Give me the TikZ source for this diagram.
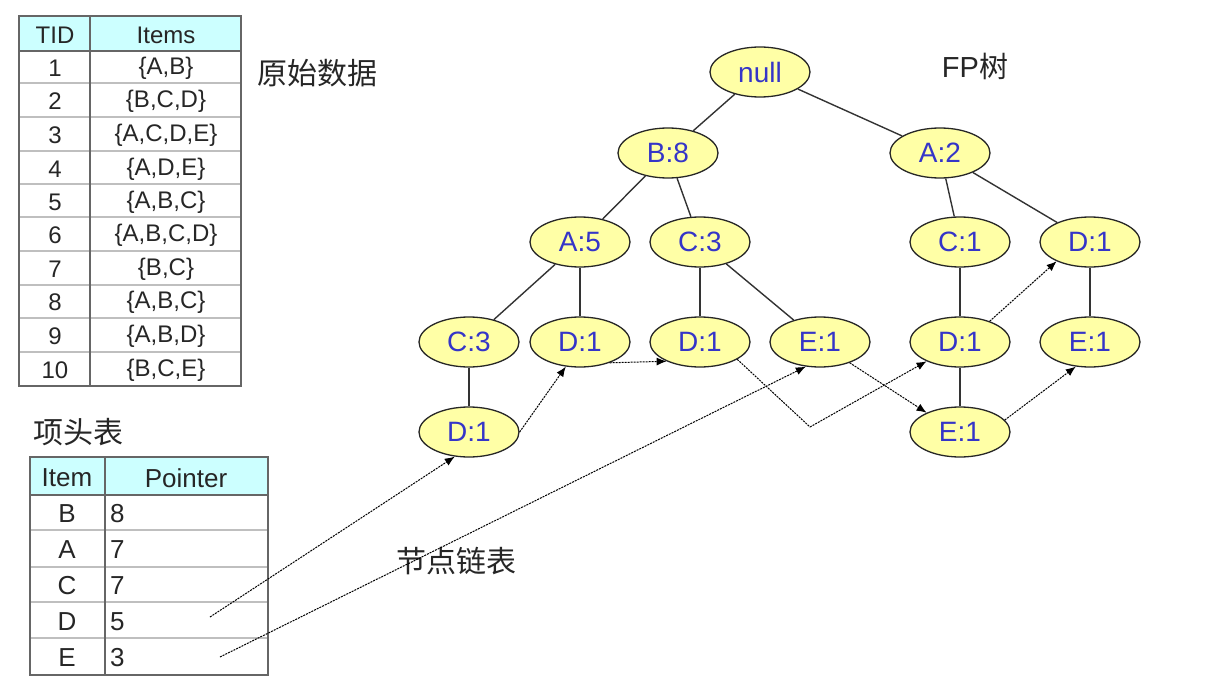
\documentclass[tikz,border=0pt]{standalone}
\usepackage{fontspec}
\setmainfont{Liberation Sans}
\newfontfamily\cjk{Noto Sans CJK SC}
\usetikzlibrary{shapes.geometric,arrows.meta}
\definecolor{nodefill}{HTML}{FFFFA6}
\definecolor{nodetext}{HTML}{3535C8}
\definecolor{headfill}{HTML}{CCFFFF}
\tikzset{
  fpnode/.style={ellipse,draw=black!85,line width=1.3pt,fill=nodefill,minimum width=100pt,minimum height=50pt,inner sep=0pt,text=nodetext,font=\fontsize{28}{28}\selectfont},
  treeedge/.style={draw=black!80,line width=1.4pt},
  linkarrow/.style={draw=black!55,line width=1pt,dash pattern=on 2pt off 1pt,-{Latex[length=10pt,width=8pt]},black},
  cell/.style={font=\fontsize{24}{24}\selectfont,text=black!85,inner sep=0pt},
  cellb/.style={font=\fontsize{26}{26}\selectfont,text=black!85,inner sep=0pt},
  cjklabel/.style={font=\cjk\fontsize{30}{30}\selectfont,text=black!85,inner sep=0pt},
  rowline/.style={draw=black!25,line width=1.6pt},
  frame/.style={draw=black!60,line width=1.4pt}
}
\begin{document}
\begin{tikzpicture}[x=1pt,y=-1pt]
\useasboundingbox (0,0) rectangle (1213,698);
% ---------- table 1 ----------
\fill[headfill] (19,16) rectangle (241,51);
\foreach \yy in {83,117,151,184,217,251,285,318,352}{\draw[rowline] (20,\yy) -- (240,\yy);}
\draw[frame] (19,51) -- (241,51);
\draw[frame] (19,16) rectangle (241,386);
\draw[frame] (90,16) -- (90,386);
\node[cell] (t1h1) at (55,35) {TID};
\node[cell] (t1h2) at (166,35) {Items};
\node[cell] (t1a1) at (55,68) {1};   \node[cell] (t1b1) at (166,68) {\{A,B\}};
\node[cell] (t1a2) at (55,101) {2};  \node[cell] (t1b2) at (166,101) {\{B,C,D\}};
\node[cell] (t1a3) at (55,135) {3};  \node[cell] (t1b3) at (166,135) {\{A,C,D,E\}};
\node[cell] (t1a4) at (55,169) {4};  \node[cell] (t1b4) at (166,169) {\{A,D,E\}};
\node[cell] (t1a5) at (55,202) {5};  \node[cell] (t1b5) at (166,202) {\{A,B,C\}};
\node[cell] (t1a6) at (55,235) {6};  \node[cell] (t1b6) at (166,235) {\{A,B,C,D\}};
\node[cell] (t1a7) at (55,269) {7};  \node[cell] (t1b7) at (166,269) {\{B,C\}};
\node[cell] (t1a8) at (55,302) {8};  \node[cell] (t1b8) at (166,302) {\{A,B,C\}};
\node[cell] (t1a9) at (55,336) {9};  \node[cell] (t1b9) at (166,336) {\{A,B,D\}};
\node[cell] (t1a10) at (55,370) {10}; \node[cell] (t1b10) at (166,370) {\{B,C,E\}};
\node[cjklabel] (lbl1) at (317,73) {原始数据};
% ---------- table 2 ----------
\node[cjklabel] (lbl2) at (78,432) {项头表};
\fill[headfill] (30,457) rectangle (268,495);
\foreach \yy in {530,567,602,638}{\draw[rowline] (31,\yy) -- (267,\yy);}
\draw[frame] (30,495) -- (268,495);
\draw[frame] (30,457) rectangle (268,675);
\draw[frame] (105,457) -- (105,675);
\node[cellb] (t2h1) at (67,478) {Item};
\node[cellb] (t2h2) at (186,478) {Pointer};
\node[cellb] (t2a1) at (67,514) {B}; \node[cellb,anchor=west] (t2b1) at (110,514) {8};
\node[cellb] (t2a2) at (67,550) {A}; \node[cellb,anchor=west] (t2b2) at (110,550) {7};
\node[cellb] (t2a3) at (67,586) {C}; \node[cellb,anchor=west] (t2b3) at (110,586) {7};
\node[cellb] (t2a4) at (67,622) {D}; \node[cellb,anchor=west] (t2b4) at (110,622) {5};
\node[cellb] (t2a5) at (67,658) {E}; \node[cellb,anchor=west] (t2b5) at (110,658) {3};
\node[cjklabel] (lbl3) at (456,561) {节点链表};
\node[font=\fontsize{29}{29}\selectfont,text=black!85,inner sep=0pt] (lbl4) at (975,66) {FP\cjk 树};
% ---------- FP tree ----------
\node[fpnode] (null) at (760,72) {null};
\node[fpnode] (b8) at (668,153) {B:8};
\node[fpnode] (a2) at (940,153) {A:2};
\node[fpnode] (a5) at (580,242) {A:5};
\node[fpnode] (c3) at (700,242) {C:3};
\node[fpnode] (c1) at (960,242) {C:1};
\node[fpnode] (dr) at (1090,242) {D:1};
\node[fpnode] (c3b) at (469,342) {C:3};
\node[fpnode] (da5) at (580,342) {D:1};
\node[fpnode] (dc3) at (700,342) {D:1};
\node[fpnode] (ec3) at (820,342) {E:1};
\node[fpnode] (dc1) at (960,342) {D:1};
\node[fpnode] (er) at (1090,342) {E:1};
\node[fpnode] (db) at (469,432) {D:1};
\node[fpnode] (eb) at (960,432) {E:1};
\draw[treeedge] (null) -- (b8);
\draw[treeedge] (null) -- (a2);
\draw[treeedge] (b8) -- (a5);
\draw[treeedge] (b8) -- (c3);
\draw[treeedge] (a5) -- (c3b);
\draw[treeedge] (a5) -- (da5);
\draw[treeedge] (c3) -- (dc3);
\draw[treeedge] (c3) -- (ec3);
\draw[treeedge] (a2) -- (c1);
\draw[treeedge] (a2) -- (dr);
\draw[treeedge] (c1) -- (dc1);
\draw[treeedge] (dr) -- (er);
\draw[treeedge] (c3b) -- (db);
\draw[treeedge] (dc1) -- (eb);
% ---------- node links ----------
\coordinate (k1) at (810,427);
\coordinate (pd) at (210,617);
\coordinate (pe) at (220,657);
\draw[linkarrow] (db.east) -- (da5.-120);
\draw[linkarrow] (da5.-35) -- (dc3.-150);
\draw[linkarrow,-] (dc3.-25) -- (k1);
\draw[linkarrow] (k1) -- (dc1.-150);
\draw[linkarrow] (dc1.35) -- (dr.-150);
\draw[linkarrow] (ec3.-35) -- (eb.150);
\draw[linkarrow] (eb.15) -- (er.-120);
\draw[linkarrow] (pd) -- (db.-120);
\draw[linkarrow] (pe) -- (ec3.-120);
\end{tikzpicture}
\end{document}
